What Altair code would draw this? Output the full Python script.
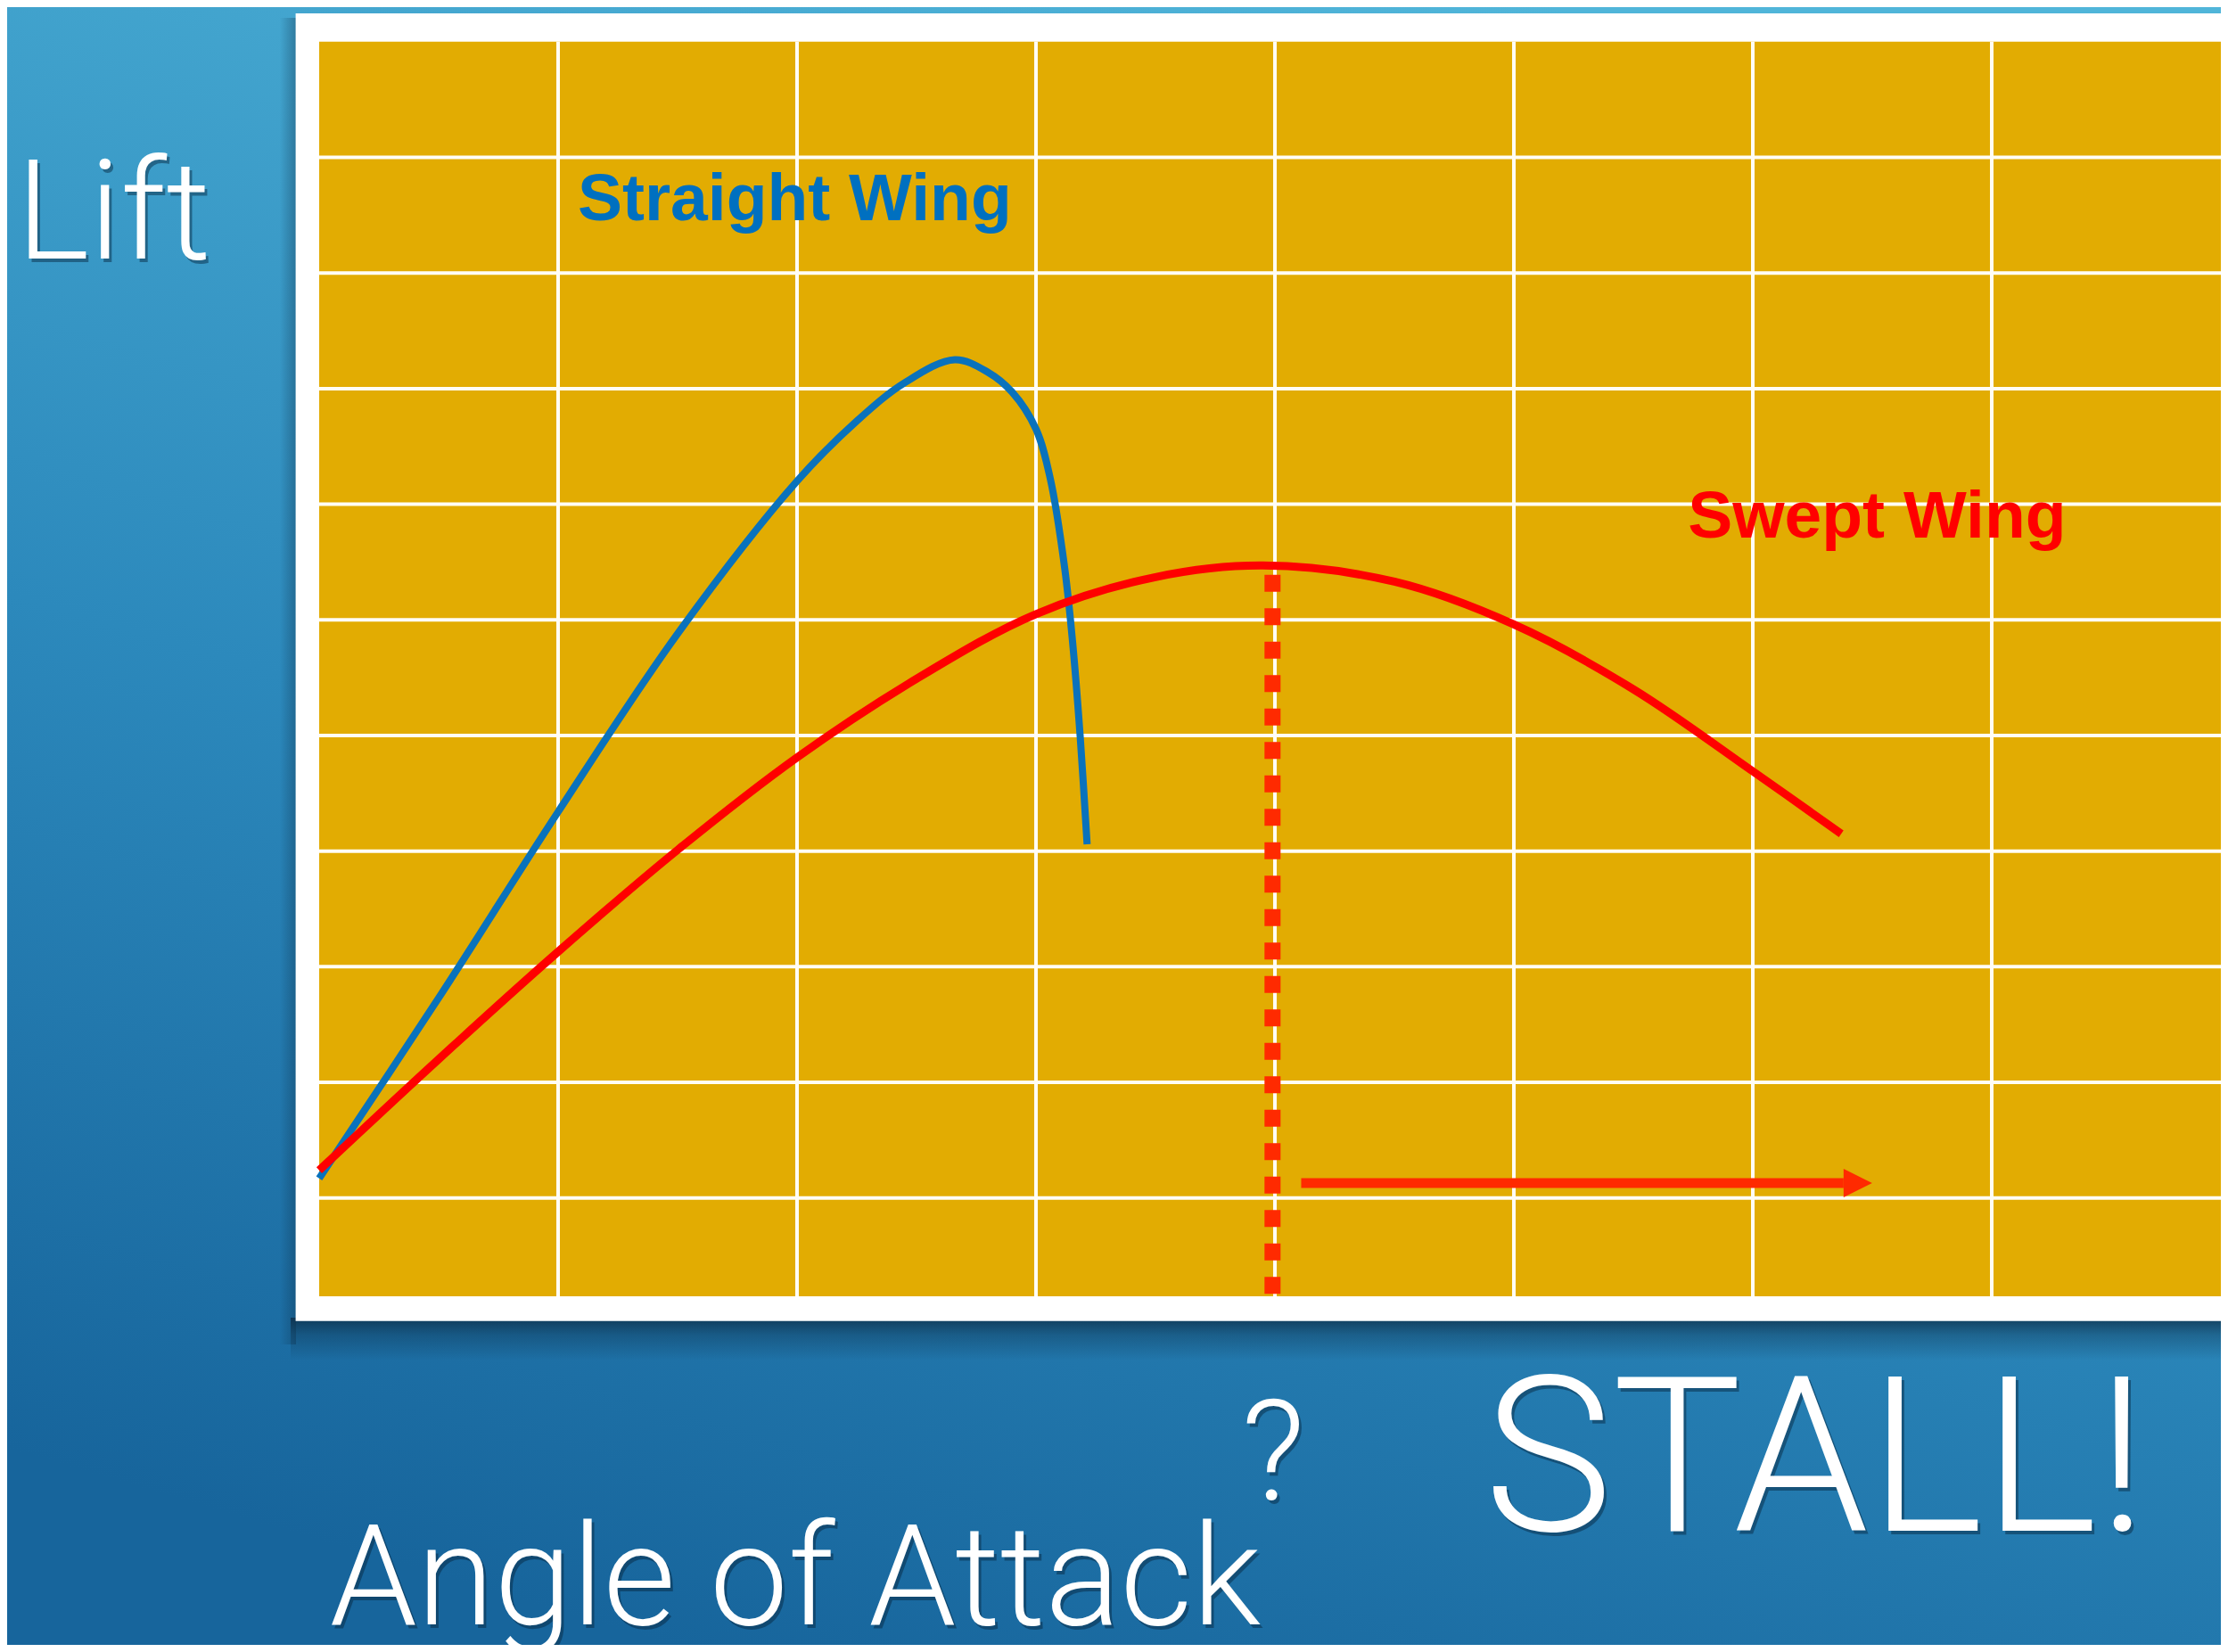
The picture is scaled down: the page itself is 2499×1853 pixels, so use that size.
import altair as alt
import pandas as pd

# ---------------- data ----------------
BLUE_AOA = [0.0, 0.5, 1.0, 1.5, 2.0, 2.25, 2.45, 2.66, 2.80, 2.90, 3.0, 3.06, 3.12, 3.154, 3.185, 3.214]
BLUE_LIFT = [0.17, 1.73, 3.34, 4.88, 6.20, 6.72, 7.05, 7.25, 7.14, 6.97, 6.65, 6.22, 5.45, 4.79, 3.99, 3.06]

RED_AOA = [0.0, 0.5, 1.0, 1.5, 2.0, 2.5, 3.0, 3.5, 3.95, 4.5, 5.0, 5.5, 6.0, 6.37]
RED_LIFT = [0.24, 1.20, 2.13, 3.01, 3.81, 4.49, 5.05, 5.37, 5.47, 5.33, 4.96, 4.40, 3.69, 3.15]

GRID_AOA = [1, 2, 3, 4, 5, 6, 7]
GRID_LIFT = [0, 1, 2, 3, 4, 5, 6, 7, 8, 9]
AOA_RANGE = [0, 9]
LIFT_RANGE = [-0.85, 10]

STALL_AOA = [3.99]
STALL_TOP = [5.39]

ARROW_AOA = [4.11, 6.38]
ARROW_LIFT = [0.13, 0.13]

LABELS = ["Straight Wing", "Swept Wing"]
LABEL_AOA = [1.99, 6.52]
LABEL_LIFT = [8.46, 5.71]
LABEL_COLORS = ["#0070C0", "#FF0000"]

# ---------------- layout ----------------
W, H = 2483, 1837
xs = alt.Scale(domain=[0, 8], range=[350, 2494], nice=False, zero=False)
ys = alt.Scale(domain=[-0.85, 10], range=[1446, 38.8], nice=False, zero=False)

one = pd.DataFrame({"k": [0]})


def X(f):
    return alt.X(f, type="quantitative", scale=xs, axis=None)


def Y(f):
    return alt.Y(f, type="quantitative", scale=ys, axis=None)


bg = alt.Chart(one).mark_rect(
    fill=alt.LinearGradient(
        gradient="linear",
        stops=[alt.GradientStop(color="#50B5D9", offset=0),
               alt.GradientStop(color="#2C89BC", offset=0.55),
               alt.GradientStop(color="#17659C", offset=1)],
        x1=0.7, y1=0, x2=0.3, y2=1),
    strokeWidth=0,
).encode(x=alt.value(0), x2=alt.value(W), y=alt.value(0), y2=alt.value(H))

shadow_bottom = alt.Chart(one).mark_rect(
    fill=alt.LinearGradient(
        gradient="linear",
        stops=[alt.GradientStop(color="rgba(12,45,70,0.8)", offset=0),
               alt.GradientStop(color="rgba(12,45,70,0.35)", offset=0.4),
               alt.GradientStop(color="rgba(12,45,70,0)", offset=1)],
        x1=0, y1=0, x2=0, y2=1),
    strokeWidth=0,
).encode(x=alt.value(318), x2=alt.value(W), y=alt.value(1470), y2=alt.value(1518))

shadow_left = alt.Chart(one).mark_rect(
    fill=alt.LinearGradient(
        gradient="linear",
        stops=[alt.GradientStop(color="rgba(12,45,70,0)", offset=0),
               alt.GradientStop(color="rgba(12,45,70,0.35)", offset=1)],
        x1=0, y1=0, x2=1, y2=0),
    strokeWidth=0,
).encode(x=alt.value(306), x2=alt.value(324), y=alt.value(12), y2=alt.value(1500))

frame = alt.Chart(one).mark_rect(fill="white", strokeWidth=0).encode(
    x=alt.value(323.6), x2=alt.value(W + 10), y=alt.value(7), y2=alt.value(1473.7))

gold_df = pd.DataFrame({"x0": [AOA_RANGE[0]], "x1": [AOA_RANGE[1]],
                        "y0": [LIFT_RANGE[0]], "y1": [LIFT_RANGE[1]]})
gold = alt.Chart(gold_df).mark_rect(fill="#E2AC02", strokeWidth=0).encode(
    x=X("x0"), x2="x1", y=Y("y0"), y2="y1")

vgrid_df = pd.DataFrame({"x": GRID_AOA, "y0": LIFT_RANGE[0], "y1": LIFT_RANGE[1]})
vgrid = alt.Chart(vgrid_df).mark_rule(color="#FFFDF6", strokeWidth=4).encode(
    x=X("x"), y=Y("y0"), y2="y1")

hgrid_df = pd.DataFrame({"y": GRID_LIFT, "x0": AOA_RANGE[0], "x1": AOA_RANGE[1]})
hgrid = alt.Chart(hgrid_df).mark_rule(color="#FFFDF6", strokeWidth=4).encode(
    y=Y("y"), x=X("x0"), x2="x1")

blue_df = pd.DataFrame({"aoa": BLUE_AOA, "lift": BLUE_LIFT})
blue = alt.Chart(blue_df).mark_line(
    color="#0A72BC", strokeWidth=8, interpolate="catmull-rom", strokeCap="butt"
).encode(x=X("aoa"), y=Y("lift"))

red_df = pd.DataFrame({"aoa": RED_AOA, "lift": RED_LIFT})
red = alt.Chart(red_df).mark_line(
    color="#FF0000", strokeWidth=9, interpolate="catmull-rom", strokeCap="butt"
).encode(x=X("aoa"), y=Y("lift"))

stall_df = pd.DataFrame({"aoa": STALL_AOA, "top": STALL_TOP, "bottom": [LIFT_RANGE[0]]})
stall = alt.Chart(stall_df).mark_rule(
    color="#FF2A00", strokeWidth=18, strokeDash=[19, 18.5], strokeCap="butt"
).encode(x=X("aoa"), y=Y("top"), y2="bottom")

arrow_df = pd.DataFrame({"aoa": ARROW_AOA, "lift": ARROW_LIFT})
arrow_line = alt.Chart(arrow_df).mark_line(
    color="#FF2A00", strokeWidth=11, strokeCap="butt"
).encode(x=X("aoa"), y=Y("lift"))
arrow_head = alt.Chart(arrow_df.tail(1)).mark_point(
    shape="M0,-1L2,0L0,1Z", size=1024, filled=True, color="#FF2A00", opacity=1
).encode(x=X("aoa"), y=Y("lift"))

label_df = pd.DataFrame({"t": LABELS, "aoa": LABEL_AOA, "lift": LABEL_LIFT, "c": LABEL_COLORS})
labels = alt.Chart(label_df).mark_text(
    font="Liberation Sans", fontWeight="bold", fontSize=75,
    align="center", baseline="alphabetic"
).encode(x=X("aoa"), y=Y("lift"), text="t:N", color=alt.Color("c:N", scale=None))

BIG_FONT = "Roboto"


def slide_text(txt, cx, by, size):
    shadow = alt.Chart(one).mark_text(
        text=txt, font=BIG_FONT, fontWeight=300, fontSize=size,
        align="center", baseline="alphabetic", color="#06233A",
        opacity=0.45, dx=3, dy=4
    ).encode(x=alt.value(cx), y=alt.value(by))
    main = alt.Chart(one).mark_text(
        text=txt, font=BIG_FONT, fontWeight=300, fontSize=size,
        align="center", baseline="alphabetic", color="white"
    ).encode(x=alt.value(cx), y=alt.value(by))
    return [shadow, main]


texts = []
texts += slide_text("Lift", 119.5, 282, 155)
texts += slide_text("Angle of Attack", 884, 1814, 157)
texts += slide_text("?", 1420, 1674, 157)
texts += slide_text("STALL!", 2028, 1709, 243)

chart = alt.layer(
    bg, shadow_bottom, shadow_left, frame, gold, vgrid, hgrid,
    blue, red, stall, arrow_line, arrow_head, labels, *texts
).properties(
    width=W, height=H, padding=0,
    autosize=alt.AutoSizeParams(type="none"),
    background="#2479A8",
).configure_view(stroke=None)

chart.save("out.html", embed_options={"renderer": "svg", "actions": False})
